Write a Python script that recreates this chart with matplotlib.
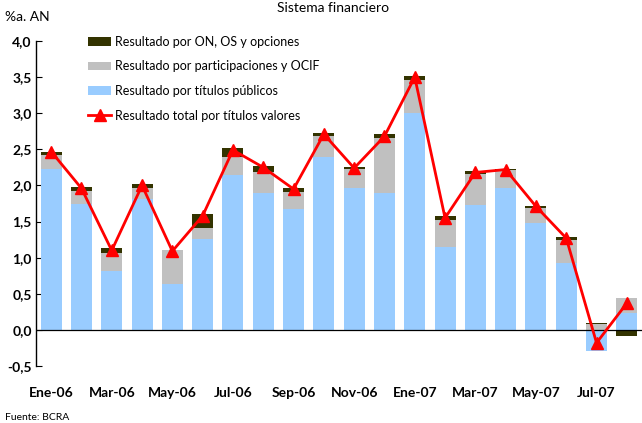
import numpy as np
import matplotlib
matplotlib.use('Agg')
import matplotlib.pyplot as plt
from matplotlib.ticker import FuncFormatter

plt.rcParams['font.family'] = ['Lato', 'DejaVu Sans']

# Datos (%a. AN)
meses = ['Ene-06', 'Feb-06', 'Mar-06', 'Abr-06', 'May-06', 'Jun-06', 'Jul-06', 'Ago-06',
         'Sep-06', 'Oct-06', 'Nov-06', 'Dic-06', 'Ene-07', 'Feb-07', 'Mar-07', 'Abr-07',
         'May-07', 'Jun-07', 'Jul-07', 'Ago-07']
titulos_publicos = [2.23, 1.75, 0.82, 1.81, 0.64, 1.26, 2.14, 1.89, 1.67, 2.40,
                    1.97, 1.89, 3.00, 1.15, 1.73, 1.97, 1.48, 0.93, -0.29, 0.24]
participaciones = [0.19, 0.17, 0.25, 0.16, 0.47, 0.15, 0.26, 0.29, 0.24, 0.29,
                   0.26, 0.77, 0.46, 0.37, 0.43, 0.24, 0.21, 0.32, 0.08, 0.20]
on_os_opciones = [0.05, 0.06, 0.06, 0.05, -0.02, 0.19, 0.12, 0.09, 0.06, 0.04,
                  0.02, 0.05, 0.05, 0.06, 0.04, 0.02, 0.03, 0.04, 0.02, -0.08]
total = [2.47, 1.96, 1.10, 2.00, 1.09, 1.58, 2.49, 2.25, 1.95, 2.71,
         2.24, 2.68, 3.50, 1.55, 2.18, 2.22, 1.71, 1.27, -0.18, 0.37]

x = np.arange(len(meses))

fig = plt.figure(figsize=(6.42, 4.23), dpi=100)
ax = fig.add_axes([36 / 642, 1 - 366 / 423, 1 - 36 / 642, (366 - 41) / 423])

# Barras apiladas (positivos hacia arriba, negativos hacia abajo)
series = [(titulos_publicos, '#99ccff', 'Resultado por títulos públicos'),
          (participaciones, '#c0c0c0', 'Resultado por participaciones y OCIF'),
          (on_os_opciones, '#333300', 'Resultado por ON, OS y opciones')]
pos_base = np.zeros(len(x))
neg_base = np.zeros(len(x))
handles = {}
for vals, color, label in series:
    vals = np.array(vals)
    base = np.where(vals >= 0, pos_base, neg_base)
    b = ax.bar(x, vals, bottom=base, width=0.69, color=color, label=label, zorder=2)
    handles[label] = b
    pos_base = pos_base + np.clip(vals, 0, None)
    neg_base = neg_base + np.clip(vals, None, 0)

linea, = ax.plot(x, total, color='#ff0000', lw=2, marker='^', markersize=9,
                 label='Resultado total por títulos valores', zorder=3)

ax.axhline(0, color='black', lw=0.9, zorder=2.5)

ax.set_xlim(-0.5, 19.5)
ax.set_ylim(-0.5, 4.0)
ax.set_yticks(np.arange(-0.5, 4.01, 0.5))
ax.yaxis.set_major_formatter(FuncFormatter(lambda v, p: f'{v:.1f}'.replace('.', ',')))
ax.tick_params(axis='y', direction='in', length=4, labelsize=10, pad=3)
for t in ax.get_yticklabels():
    t.set_fontweight('bold')

ax.set_xticks(x[::2])
ax.set_xticklabels(meses[::2], fontsize=10, fontweight='bold')
ax.tick_params(axis='x', length=0, pad=15)

for s in ['top', 'right', 'bottom']:
    ax.spines[s].set_visible(False)
ax.spines['left'].set_linewidth(1)

orden = ['Resultado por ON, OS y opciones', 'Resultado por participaciones y OCIF',
         'Resultado por títulos públicos']
ax.legend([handles[k] for k in orden] + [linea], orden + ['Resultado total por títulos valores'],
          loc='upper left', bbox_to_anchor=(0.068, 1.05), frameon=False, fontsize=9,
          handlelength=1.8, handletextpad=0.3, labelspacing=1.0)

fig.text(333 / 642, 1 - 8 / 423, 'Sistema financiero', ha='center', va='center', fontsize=10)
fig.text(5 / 642, 1 - 17 / 423, '%a. AN', ha='left', va='center', fontsize=10)
fig.text(5 / 642, 1 - 417 / 423, 'Fuente: BCRA', ha='left', va='center', fontsize=7.5)

fig.savefig('out.png', dpi=100)
